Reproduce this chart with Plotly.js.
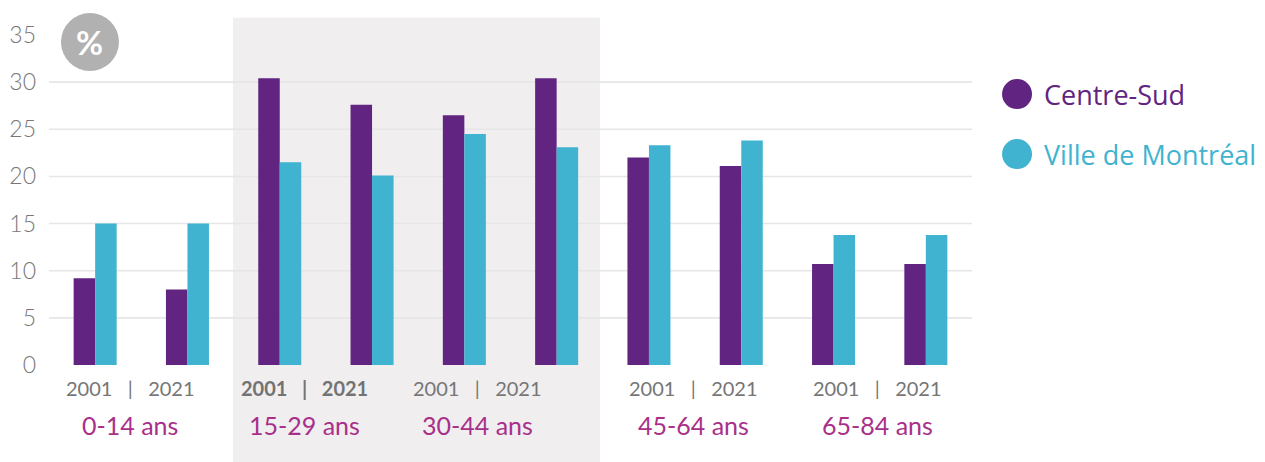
<!DOCTYPE html>
<html>
<head>
<meta charset="utf-8">
<script src="https://cdn.plot.ly/plotly-3.0.1.min.js"></script>
<style>html,body{margin:0;padding:0;background:#fff;}#chart{width:1265px;height:462px;}</style>
</head>
<body>
<div id="chart"></div>
<script>
// ---- data ----
const ageGroups = ['0-14 ans', '15-29 ans', '30-44 ans', '45-64 ans', '65-84 ans'];
const years = ['2001', '2021'];
const seriesNames = ['Centre-Sud', 'Ville de Montréal'];
const centreSud = [9.2, 8.0, 30.4, 27.6, 26.5, 30.4, 22.0, 21.1, 10.7, 10.7];
const villeMontreal = [15.0, 15.0, 21.5, 20.1, 24.5, 23.1, 23.3, 23.8, 13.8, 13.8];
const yTicks = [0, 5, 10, 15, 20, 25, 30, 35];
const gridValues = [5, 10, 15, 20, 25, 30];

// ---- style ----
const colors = ['#612480', '#3fb3cf'];
const labelColor = '#767676';
const ageColor = '#a8308a';
const fontFam = 'Lato, "Open Sans", sans-serif';
const legendFam = '"Open Sans", Lato, sans-serif';
const groupShift = [-11, -21, -33, -2, -2];

const cats = [];
ageGroups.forEach(g => years.forEach(y => cats.push(g + ' ' + y)));

const traces = [centreSud, villeMontreal].map((vals, i) => ({
  type: 'bar',
  x: cats,
  y: vals,
  name: seriesNames[i],
  marker: {color: colors[i]},
  showlegend: false,
  hoverinfo: 'x+y+name'
}));

const shapes = [];
// shaded region behind highlighted groups
shapes.push({
  type: 'rect', layer: 'below',
  xref: 'paper', yref: 'paper',
  x0: 0.1993, x1: 0.597, y0: -0.30, y1: 1.052,
  fillcolor: '#f0eeef', line: {width: 0}
});
gridValues.forEach(v => shapes.push({
  type: 'line', layer: 'below',
  xref: 'paper', yref: 'y',
  x0: 0, x1: 1, y0: v, y1: v,
  line: {color: '#e6e6e6', width: 1.6}
}));
// % badge
shapes.push({
  type: 'circle', xref: 'paper', yref: 'paper',
  xsizemode: 'pixel', ysizemode: 'pixel',
  xanchor: 0.0444, yanchor: 0.979,
  x0: -29, x1: 29, y0: -29, y1: 29,
  fillcolor: '#b1b1b1', line: {width: 0}
});
// legend circles
seriesNames.forEach((n, i) => shapes.push({
  type: 'circle', xref: 'paper', yref: 'paper',
  xsizemode: 'pixel', ysizemode: 'pixel',
  xanchor: 1.0488, yanchor: 0.821,
  x0: -15, x1: 15, y0: -15 - 60 * i, y1: 15 - 60 * i,
  fillcolor: colors[i], line: {width: 0}
}));

const annotations = [];
annotations.push({
  xref: 'paper', yref: 'paper', x: 0.0444, y: 0.979,
  xanchor: 'center', yanchor: 'middle', showarrow: false,
  text: '%', font: {family: fontFam, size: 33, color: '#ffffff', weight: 700}
});
seriesNames.forEach((n, i) => annotations.push({
  xref: 'paper', yref: 'paper', x: 1.0758, y: 0.821, yshift: -60 * i,
  xanchor: 'left', yanchor: 'middle', showarrow: false,
  text: n, font: {family: legendFam, size: 27, color: colors[i]}
}));
ageGroups.forEach((g, i) => {
  const bold = i === 1;
  annotations.push({
    xref: 'x', yref: 'paper', x: 2 * i + 0.5, y: 0, yshift: -23, xshift: groupShift[i],
    xanchor: 'center', yanchor: 'middle', showarrow: false,
    text: years[0] + '&nbsp;&nbsp;&nbsp;|&nbsp;&nbsp;&nbsp;' + years[1],
    font: {family: fontFam, size: 20, color: bold ? '#737373' : labelColor, weight: bold ? 700 : 400}
  });
  annotations.push({
    xref: 'x', yref: 'paper', x: 2 * i + 0.5, y: 0, yshift: -60, xshift: groupShift[i],
    xanchor: 'center', yanchor: 'middle', showarrow: false,
    text: g,
    font: {family: fontFam, size: 25, color: ageColor}
  });
});

const layout = {
  width: 1265, height: 462,
  margin: {l: 49, r: 293, t: 35, b: 97, pad: 0},
  paper_bgcolor: '#ffffff',
  plot_bgcolor: 'rgba(0,0,0,0)',
  barmode: 'group',
  bargap: 0.534,
  bargroupgap: 0,
  showlegend: false,
  xaxis: {
    type: 'category', categoryorder: 'array', categoryarray: cats,
    showticklabels: false, showgrid: false, zeroline: false, showline: false, ticks: ''
  },
  yaxis: {
    range: [0, 35], tickvals: yTicks, ticktext: yTicks.map(String),
    showgrid: false, zeroline: false, showline: false, ticks: '',
    ticklabelstandoff: 12,
    tickfont: {family: fontFam, size: 23, color: '#777777', weight: 300}
  },
  shapes: shapes,
  annotations: annotations
};

Plotly.newPlot('chart', traces, layout, {displayModeBar: false, staticPlot: true});
</script>
</body>
</html>
